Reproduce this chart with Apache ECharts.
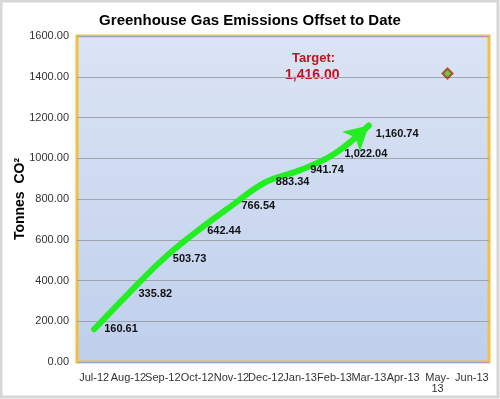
<!DOCTYPE html>
<html>
<head>
<meta charset="utf-8">
<script src="https://cdn.jsdelivr.net/npm/echarts@6/dist/echarts.min.js"></script>
<style>
	html, body { margin: 0; padding: 0; background: #fff; }
	#chart { width: 500px; height: 399px; }
</style>
</head>
<body>
<div id="chart"></div>
<script>
var months = ['Jul-12', 'Aug-12', 'Sep-12', 'Oct-12', 'Nov-12', 'Dec-12', 'Jan-13', 'Feb-13', 'Mar-13', 'Apr-13', 'May-13', 'Jun-13'];
var offsetToDate = [160.61, 335.82, 503.73, 642.44, 766.54, 883.34, 941.74, 1022.04, 1160.74];
var targetMonth = 'May-13';
var targetValue = 1416.00;
var yTicks = { min: 0, max: 1600, interval: 200 };

function fmt(v) {
	return v.toLocaleString('en-US', { minimumFractionDigits: 2, maximumFractionDigits: 2 });
}

//最后一个点画成箭头
var lineData = offsetToDate.map(function (v, i) {
	if (i === offsetToDate.length - 1) {
		return {
			value: v,
			symbol: 'arrow',
			symbolSize: [20, 24],
			symbolRotate: -48,
			label: { position: 'right', distance: 0, offset: [-2, 0] }
		};
	}
	return { value: v };
});

var chart = echarts.init(document.getElementById('chart'));
var option = {
	animation: false,
	textStyle: { fontFamily: 'Liberation Sans, Arial, sans-serif' },
	title: {
		text: 'Greenhouse Gas Emissions Offset to Date',
		left: 'center',
		top: 8,
		textStyle: { fontSize: 15, fontWeight: 'bold', color: '#000' }
	},
	grid: {
		left: 77,
		right: 11,
		top: 36,
		bottom: 37,
		outerBoundsMode: 'none',
		containLabel: false,
		show: true,
		borderColor: '#f0c23c',
		borderWidth: 3,
		backgroundColor: new echarts.graphic.LinearGradient(0, 0, 0, 1, [
			{ offset: 0, color: '#dbe4f4' },
			{ offset: 1, color: '#bfcfec' }
		])
	},
	xAxis: {
		type: 'category',
		data: months,
		axisLine: { show: false },
		axisTick: { show: false },
		axisLabel: {
			interval: 0,
			fontSize: 11,
			color: '#333',
			margin: 10,
			formatter: function (v) { return v === 'May-13' ? 'May-\n13' : v; }
		}
	},
	yAxis: {
		type: 'value',
		min: yTicks.min,
		max: yTicks.max,
		interval: yTicks.interval,
		name: 'Tonnes  CO²',
		nameLocation: 'middle',
		nameGap: 50,
		nameMoveOverlap: false,
		nameTextStyle: { fontSize: 14, fontWeight: 'bold', color: '#000' },
		axisLine: { show: false },
		axisTick: { show: false },
		axisLabel: {
			fontSize: 11,
			color: '#333',
			margin: 8,
			formatter: function (v) { return v.toFixed(2); }
		},
		splitLine: { lineStyle: { color: '#9ea4ad', width: 1 } }
	},
	series: [
		{
			type: 'line',
			data: lineData,
			smooth: 0.4,
			symbol: 'circle',
			symbolSize: 4,
			showSymbol: true,
			itemStyle: { color: '#22ee22' },
			lineStyle: { color: '#22ee22', width: 6, cap: 'round' },
			label: {
				show: true,
				position: 'right',
				distance: 8,
				fontSize: 11,
				fontWeight: 'bold',
				color: '#111',
				formatter: function (p) { return fmt(p.value); }
			},
			z: 3
		},
		{
			type: 'scatter',
			data: [[targetMonth, targetValue]],
			symbol: 'diamond',
			symbolSize: 10,
			symbolOffset: [10, 0],
			itemStyle: { color: '#55bb22', borderColor: '#b03018', borderWidth: 2 },
			z: 4
		}
	],
	graphic: [
		{
			type: 'rect',
			shape: { x: 1, y: 1, width: 497, height: 396 },
			style: { fill: 'none', stroke: '#d6d6d6', lineWidth: 3 },
			silent: true
		},
		{
			type: 'text',
			left: 292,
			top: 52,
			style: {
				text: 'Target:',
				fill: '#c0141c',
				font: 'bold 13px Liberation Sans, Arial, sans-serif'
			}
		},
		{
			type: 'text',
			left: 285,
			top: 68,
			style: {
				text: fmt(targetValue),
				fill: '#c0141c',
				font: 'bold 14px Liberation Sans, Arial, sans-serif'
			}
		}
	]
};
chart.setOption(option);
window.addEventListener('resize', chart.resize);
</script>
</body>
</html>
